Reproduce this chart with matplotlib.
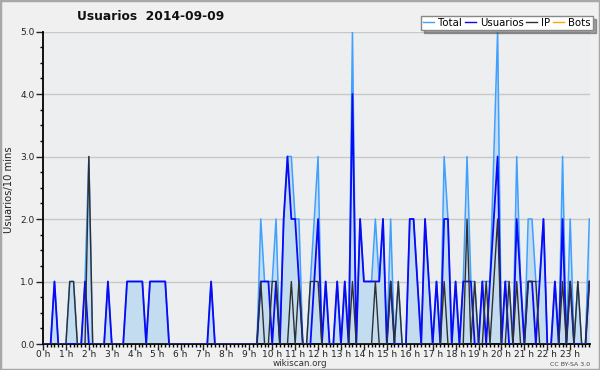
import matplotlib
matplotlib.use("Agg")
import matplotlib.pyplot as plt
from matplotlib.patches import Rectangle
from matplotlib.lines import Line2D
from matplotlib.ticker import MultipleLocator

# 10-minute bins over the day (144 bins)
usuarios = [
    0,0,0,1,0,0,0,0,0,0,0,1,0,0,0,0,0,1,0,0,0,0,1,1,
    1,1,1,0,1,1,1,1,1,0,0,0,0,0,0,0,0,0,0,0,1,0,0,0,
    0,0,0,0,0,0,0,0,0,1,1,1,0,1,0,2,3,2,2,1,0,0,0,1,
    2,0,1,0,0,1,0,1,0,4,0,2,1,1,1,1,1,2,0,1,0,0,0,0,
    2,2,1,0,2,1,0,1,0,2,2,0,1,0,1,1,1,0,0,1,0,1,2,3,
    0,1,0,0,2,1,0,1,1,0,1,2,0,0,1,0,2,0,1,0,0,0,0,1,
]
ip = [
    0,0,0,0,0,0,0,1,1,0,0,0,3,0,0,0,0,0,0,0,0,0,0,0,
    0,0,0,0,0,0,0,0,0,0,0,0,0,0,0,0,0,0,0,0,0,0,0,0,
    0,0,0,0,0,0,0,0,0,1,0,0,1,1,0,0,0,1,0,1,0,0,1,1,
    1,0,0,0,0,0,0,0,0,1,0,0,0,0,0,1,0,0,0,1,0,1,0,0,
    0,0,0,0,0,0,0,0,0,1,0,0,0,0,0,2,0,1,0,0,1,0,1,2,
    0,0,1,0,1,0,0,1,1,1,0,0,0,0,0,0,1,0,1,0,1,0,0,1,
]
total = [
    0,0,0,1,0,0,0,1,1,0,0,1,3,0,0,0,0,1,0,0,0,0,1,1,
    1,1,1,0,1,1,1,1,1,0,0,0,0,0,0,0,0,0,0,0,1,0,0,0,
    0,0,0,0,0,0,0,0,0,2,1,1,1,2,0,2,3,3,2,2,0,0,1,2,
    3,0,1,0,0,1,0,1,0,5,0,2,1,1,1,2,1,2,0,2,0,1,0,0,
    2,2,1,0,2,1,0,1,0,3,2,0,1,0,1,3,1,1,0,1,1,1,3,5,
    0,1,1,0,3,1,0,2,2,1,1,2,0,0,1,0,3,0,2,0,1,0,0,2,
]
bots = [
    0,0,0,0,0,0,0,0,0,0,0,0,0,0,0,0,0,0,0,0,0,0,0,0,
    0,0,0,0,0,0,0,0,0,0,0,0,0,0,0,0,0,0,0,0,0,0,0,0,
    0,0,0,0,0,0,0,0,0,0,0,0,0,0,0,0,0,0,0,0,0,0,0,0,
    0,0,0,0,0,0,0,0,0,0,0,0,0,0,0,0,0,0,0,0,0,0,0,0,
    0,0,0,0,0,0,0,0,0,0,0,0,0,0,0,0,0,0,0,0,0,0,0,0,
    0,0,0,0,0,0,0,0,0,0,0,0,0,0,0,0,0,0,0,0,0,0,0,0,
]
hour_labels = [f"{h} h" for h in range(24)]
y_labels = ["0.0", "1.0", "2.0", "3.0", "4.0", "5.0"]

plt.rcParams['font.family'] = ['DejaVu Sans']

W, H = 600, 370
fig = plt.figure(figsize=(W/100, H/100), dpi=100)
fig.patch.set_facecolor('#F0F0F0')
fig.patches.append(Rectangle((0, 0), 1, 1, transform=fig.transFigure,
                             fill=False, edgecolor='#A8A8A8', linewidth=2.5))

L, R, T, B = 43, 589.5, 31.5, 344
ax = fig.add_axes([L/W, 1 - B/H, (R-L)/W, (B-T)/H])
ax.set_facecolor('#EDEEF0')

x = list(range(len(total)))
ax.fill_between(x, 0, total, color='#C4DCF0', linewidth=0, zorder=1)
ax.plot(x, bots, color='#FFA500', lw=1.0, zorder=2)
ax.plot(x, total, color='#3FA0FF', lw=1.1, zorder=3)
ax.plot(x, usuarios, color='#0A0AF5', lw=1.3, zorder=4)
ax.plot(x, ip, color='#303030', lw=1.0, zorder=5)

ax.set_xlim(0, 143.05)
ax.set_ylim(0, 5)
ax.set_yticks(range(6))
ax.set_yticklabels(y_labels)
ax.yaxis.set_minor_locator(MultipleLocator(0.25))
ax.set_xticks(range(0, 144, 6))
ax.set_xticklabels(hour_labels)
ax.xaxis.set_minor_locator(MultipleLocator(1))
ax.tick_params(axis='y', which='major', length=5, width=1, labelsize=6.5,
               colors='#222222', pad=1)
ax.tick_params(axis='x', which='major', length=4, width=1, labelsize=6.5,
               colors='#222222', pad=0)
ax.tick_params(axis='both', which='minor', length=2.5, width=1)

for y in range(1, 6):
    ax.axhline(y, color='#C8C8C8', lw=1, zorder=0.5)

for s in ['top', 'right']:
    ax.spines[s].set_visible(False)
ax.spines['left'].set_linewidth(1.3)
ax.spines['bottom'].set_linewidth(1.3)

fig.text(151/W, 1 - 17/H, "Usuarios  2014-09-09", ha='center', va='center',
         fontsize=8.8, fontweight='bold', color='#111111')
fig.text(9/W, 1 - 190/H, "Usuarios/10 mins", rotation=90, ha='center',
         va='center', fontsize=7.2, color='#222222')
fig.text(300/W, 1 - 363.5/H, "wikiscan.org", ha='center', va='center',
         fontsize=6.3, color='#333333')
fig.text(590/W, 1 - 364/H, "CC BY-SA 3.0", ha='right', va='center',
         fontsize=4.5, color='#444444')

handles = [Line2D([], [], color='#3FA0FF', lw=1),
           Line2D([], [], color='#0A0AF5', lw=1),
           Line2D([], [], color='#303030', lw=1),
           Line2D([], [], color='#FFA500', lw=1)]
leg = fig.legend(handles, ["Total", "Usuarios", "IP", "Bots"], ncol=4,
                 loc='upper right', bbox_to_anchor=(593/W, 1 - 16/H),
                 fontsize=7.3, frameon=True, fancybox=False, shadow=True,
                 handlelength=1.1, handletextpad=0.4, columnspacing=0.25,
                 borderpad=0.2, borderaxespad=0)
leg.get_frame().set_edgecolor('#888888')
leg.get_frame().set_linewidth(1)

fig.savefig("out.png", dpi=100, facecolor=fig.get_facecolor())
